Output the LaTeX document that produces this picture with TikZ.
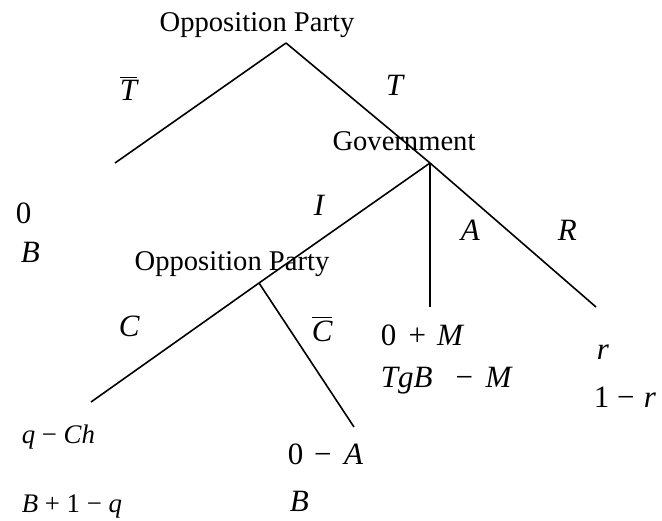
\documentclass[tikz,border=0pt]{standalone}
\usepackage{fontspec}
\setmainfont{Liberation Serif}
\newcommand{\itx}[1]{\textit{#1}}
\newcommand{\barit}[1]{$\overline{\mbox{\itshape #1}}$}

\begin{document}
\begin{tikzpicture}[x=0.5pt, y=-0.5pt, line width=0.8pt,
  every node/.style={inner sep=0pt, font=\fontsize{14.3}{17}\selectfont},
  player/.style={anchor=base},
  lbl/.style={anchor=base west, font=\fontsize{15.5}{18}\selectfont},
  pay/.style={anchor=base west, font=\fontsize{13.4}{16}\selectfont}]
  \useasboundingbox (0,0) rectangle (662,520);
  % tree vertices
  \coordinate (root) at (286,43);
  \coordinate (tbar) at (115,163);
  \coordinate (gov) at (430,163);
  \coordinate (opp) at (259,283);
  \coordinate (cend) at (91,402);
  \coordinate (cbend) at (354,427);
  \coordinate (aend) at (430,307);
  \coordinate (rend) at (596,307);
  % players
  \node[player] (p1) at (257,31) {Opposition Party};
  \node[player] (p2) at (404,150) {Government};
  \node[player] (p3) at (232,270) {Opposition Party};
  % branches
  \draw (root) -- (tbar);
  \draw (root) -- (gov);
  \draw (gov) -- (opp);
  \draw (opp) -- (cend);
  \draw (opp) -- (cbend);
  \draw (gov) -- (aend);
  \draw (gov) -- (rend);
  % actions
  \node[lbl] (lTb) at (119,100) {\barit{T}};
  \node[lbl] (lT) at (385,95) {\itx{T}};
  \node[lbl] (lI) at (313,215) {\itx{I}};
  \node[lbl] (lA) at (460,240) {\itx{A}};
  \node[lbl] (lR) at (557,240) {\itx{R}};
  \node[lbl] (lC) at (118,336) {\itx{C}};
  \node[lbl] (lCb) at (311,341) {\barit{C}};
  % payoffs
  \node[lbl] (u1) at (15,223) {0};
  \node[lbl] (v1) at (20,262) {\itx{B}};
  \node[lbl] (u2) at (380,345) {0\hspace{0.4em}+\hspace{0.35em}\itx{M}};
  \node[lbl] (v2) at (380,387) {\itx{TgB}\hspace{0.75em}−\hspace{0.4em}\itx{M}};
  \node[lbl] (u3) at (596,359) {\itx{r}};
  \node[lbl] (v3) at (593,407) {1\hspace{0.25em}−\hspace{0.3em}\itx{r}};
  \node[pay] (u4) at (21,443) {\itx{q} − \itx{Ch}};
  \node[pay] (v4) at (21,512) {\itx{B} + 1 − \itx{q}};
  \node[lbl] (u5) at (287,464) {0\hspace{0.35em}−\hspace{0.4em}\itx{A}};
  \node[lbl] (v5) at (289,511) {\itx{B}};
\end{tikzpicture}
\end{document}
